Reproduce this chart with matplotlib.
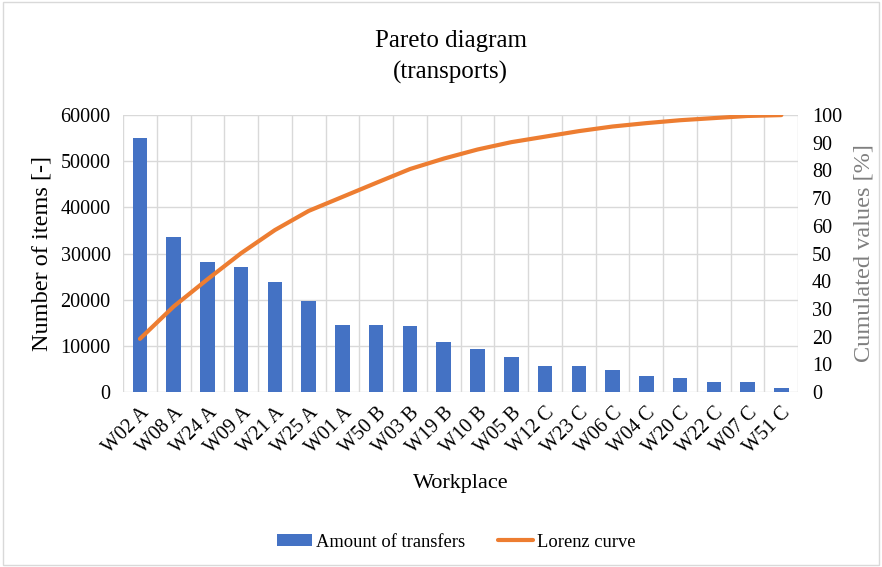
import numpy as np
import matplotlib
matplotlib.use("Agg")
import matplotlib.pyplot as plt
from matplotlib.patches import Rectangle

plt.rcParams['font.family'] = ['Liberation Serif', 'DejaVu Serif']

workplaces = ["W02 A", "W08 A", "W24 A", "W09 A", "W21 A", "W25 A", "W01 A",
              "W50 B", "W03 B", "W19 B", "W10 B", "W05 B", "W12 C", "W23 C",
              "W06 C", "W04 C", "W20 C", "W22 C", "W07 C", "W51 C"]
transfers = [55000, 33500, 28100, 27100, 23900, 19800, 14500, 14500, 14300,
             10800, 9400, 7600, 5700, 5700, 4800, 3500, 3000, 2200, 2200, 900]

# Lorenz curve: cumulative share of transfers in percent
cumulated = np.cumsum(transfers) / np.sum(transfers) * 100

left_ticks = [0, 10000, 20000, 30000, 40000, 50000, 60000]
right_ticks = list(range(0, 101, 10))

BAR = "#4472C4"
LINE = "#ED7D31"
GRID = "#D9D9D9"

fig = plt.figure(figsize=(8.82, 5.67), dpi=100)
fig.patches.append(Rectangle((0.003, 0.004), 0.994, 0.992, transform=fig.transFigure,
                             fill=False, edgecolor="#D9D9D9", linewidth=1.0))

ax = fig.add_axes([0.1395, 0.3086, 0.7655, 0.4884])
x = np.arange(len(workplaces))
ax.bar(x, transfers, width=0.43, color=BAR, zorder=2, label="Amount of transfers")
ax.set_xlim(-0.5, len(workplaces) - 0.5)
ax.set_ylim(0, 60000)
ax.set_yticks(left_ticks)
ax.set_yticklabels([str(t) for t in left_ticks], fontsize=14.5)
ax.set_xticks(x)
ax.set_xticklabels(workplaces, rotation=45, ha="right", va="top",
                   rotation_mode="anchor", fontsize=14.5)
ax.tick_params(axis="y", length=0, pad=9)
ax.tick_params(axis="x", length=0, pad=8)

# gridlines: horizontal at ticks, vertical at category boundaries
for t in left_ticks:
    ax.axhline(t, color=GRID, linewidth=1.0, zorder=0)
for b in np.arange(-0.5, len(workplaces) + 0.5, 1.0):
    ax.axvline(b, color=GRID, linewidth=1.0, zorder=0)
for s in ax.spines.values():
    s.set_visible(False)

ax.set_ylabel("Number of items [-]", fontsize=17.5, labelpad=6)
ax.set_xlabel("Workplace", fontsize=16, labelpad=12)

ax2 = ax.twinx()
ax2.plot(x, cumulated, color=LINE, linewidth=3.0, solid_joinstyle="round",
         solid_capstyle="round", zorder=3, label="Lorenz curve")
ax2.set_ylim(0, 100)
ax2.set_yticks(right_ticks)
ax2.set_yticklabels([str(t) for t in right_ticks], fontsize=14.5)
ax2.tick_params(axis="y", length=0, pad=10)
for s in ax2.spines.values():
    s.set_visible(False)
ax2.set_ylabel("Cumulated values [%]", fontsize=17.5, color="#7F7F7F", labelpad=8)

fig.text(0.511, 0.928, "Pareto diagram", ha="center", va="center", fontsize=18)
fig.text(0.511, 0.872, "(transports)", ha="center", va="center", fontsize=18)

h1, l1 = ax.get_legend_handles_labels()
h2, l2 = ax2.get_legend_handles_labels()
fig.legend(h1 + h2, l1 + l2, loc="center", bbox_to_anchor=(0.517, 0.044), ncol=2,
           frameon=False, fontsize=13.3, handlelength=1.9, handleheight=0.6,
           columnspacing=1.8, handletextpad=0.2)

fig.savefig("out.png", dpi=100)
